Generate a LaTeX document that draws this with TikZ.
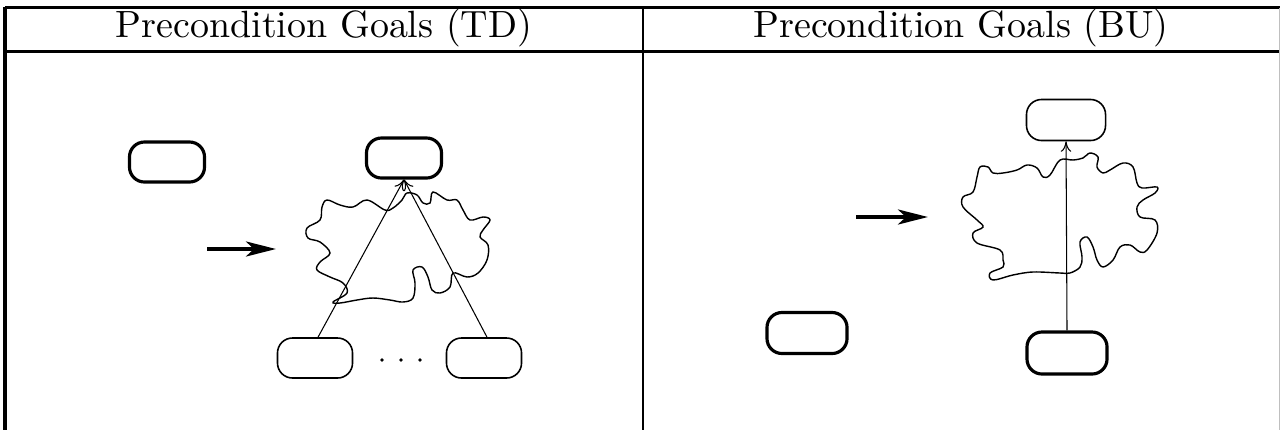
\documentclass[tikz,border=0pt]{standalone}
\usetikzlibrary{arrows.meta}
\begin{document}
\begin{tikzpicture}[x=0.01cm,y=-0.01cm,
        goal/.style={draw,rounded corners=0.15cm,minimum width=0.75cm,minimum height=0.4cm,inner sep=0pt,line width=0.45pt},
        boldgoal/.style={goal,line width=0.9pt},
        link/.style={line width=0.3pt,-{To[length=3pt,width=3pt]}},
        move/.style={line width=1.1pt,-{Stealth[length=0.3cm,width=0.15cm,inset=0.08cm]}},
        blob/.style={line width=0.4pt,smooth cycle,tension=0.6},
        head/.style={font=\fontsize{10.8}{13}\selectfont}]
    \useasboundingbox (0,0) rectangle (1280,430);
    % table frame
    \draw [line width=0.6pt] (5,7.5) -- (1280,7.5);
    \draw [line width=0.9pt] (5,51.5) -- (1280,51.5);
    \draw [line width=0.9pt] (5,6.5) -- (5,430);
    \draw [line width=0.6pt] (643,7.5) -- (643,430);
    \draw [line width=0.3pt,black!25] (1279,7.5) -- (1279,430);
    \node [head] (tdhead) at (324,28) {Precondition Goals (TD)};
    \node [head] (buhead) at (961,28) {Precondition Goals (BU)};
    % top down
    \node [boldgoal] (tdnew) at (167,162) {};
    \node [boldgoal] (tdtop) at (404,158) {};
    \node [goal] (tdsuba) at (315,358) {};
    \node [goal] (tdsubb) at (484,358) {};
    \coordinate (tdfrom) at (207,249);
    \coordinate (tdto) at (276,249);
    \draw [move] (tdfrom) -- (tdto);
    \draw [blob] plot coordinates {(385,210) (367,200) (353,207) (340,205) (327,200) (322,207)
        (320,220) (307,228) (308,238) (320,242) (330,253) (320,262) (317,270) (330,277)
        (343,283) (347,293) (333,302) (340,303) (357,300) (373,298) (390,300) (403,302)
        (413,298) (415,283) (413,270) (422,267) (428,277) (432,290) (440,293) (450,287)
        (453,273) (467,277) (478,273) (487,260) (488,245) (480,237) (483,230) (490,220)
        (483,217) (470,220) (463,210) (457,200) (447,200) (433,192) (430,203) (423,203)
        (417,195) (407,193) (402,200) (393,208)};
    \draw [link] ([xshift=0.03cm]tdsuba.north) -- (tdtop.south);
    \draw [link] ([xshift=0.03cm]tdsubb.north) -- (tdtop.south);
    \foreach \x in {382,401,420}
        \fill (\x,360) circle (0.019cm);
    % bottom up
    \node [goal,minimum width=0.79cm,minimum height=0.41cm] (butop) at (1066,120) {};
    \node [boldgoal,minimum width=0.8cm,minimum height=0.42cm] (busub) at (1067,353) {};
    \node [boldgoal,minimum width=0.8cm,minimum height=0.41cm] (bunew) at (807,333) {};
    \coordinate (bufrom) at (856,217);
    \coordinate (buto) at (928,217);
    \draw [move] (bufrom) -- (buto);
    \draw [blob] plot coordinates {(1060,160) (1050,175) (1043,177) (1037,168) (1027,165)
        (1017,170) (1003,173) (993,173) (988,167) (980,167) (977,177) (973,192) (963,197)
        (963,207) (977,220) (983,227) (973,233) (977,243) (1000,250) (1003,260) (1003,267)
        (990,273) (993,280) (1013,275) (1033,272) (1060,273) (1070,273) (1080,267)
        (1082,257) (1080,242) (1087,237) (1093,247) (1097,260) (1103,267) (1113,260)
        (1120,247) (1130,245) (1140,252) (1147,250) (1157,233) (1155,220) (1140,217)
        (1137,207) (1143,200) (1155,193) (1157,187) (1142,188) (1137,183) (1133,167)
        (1123,163) (1110,170) (1103,173) (1097,167) (1098,157) (1090,153) (1083,158)
        (1073,160)};
    \draw [link] (busub.north) -- (butop.south);
\end{tikzpicture}
\end{document}
